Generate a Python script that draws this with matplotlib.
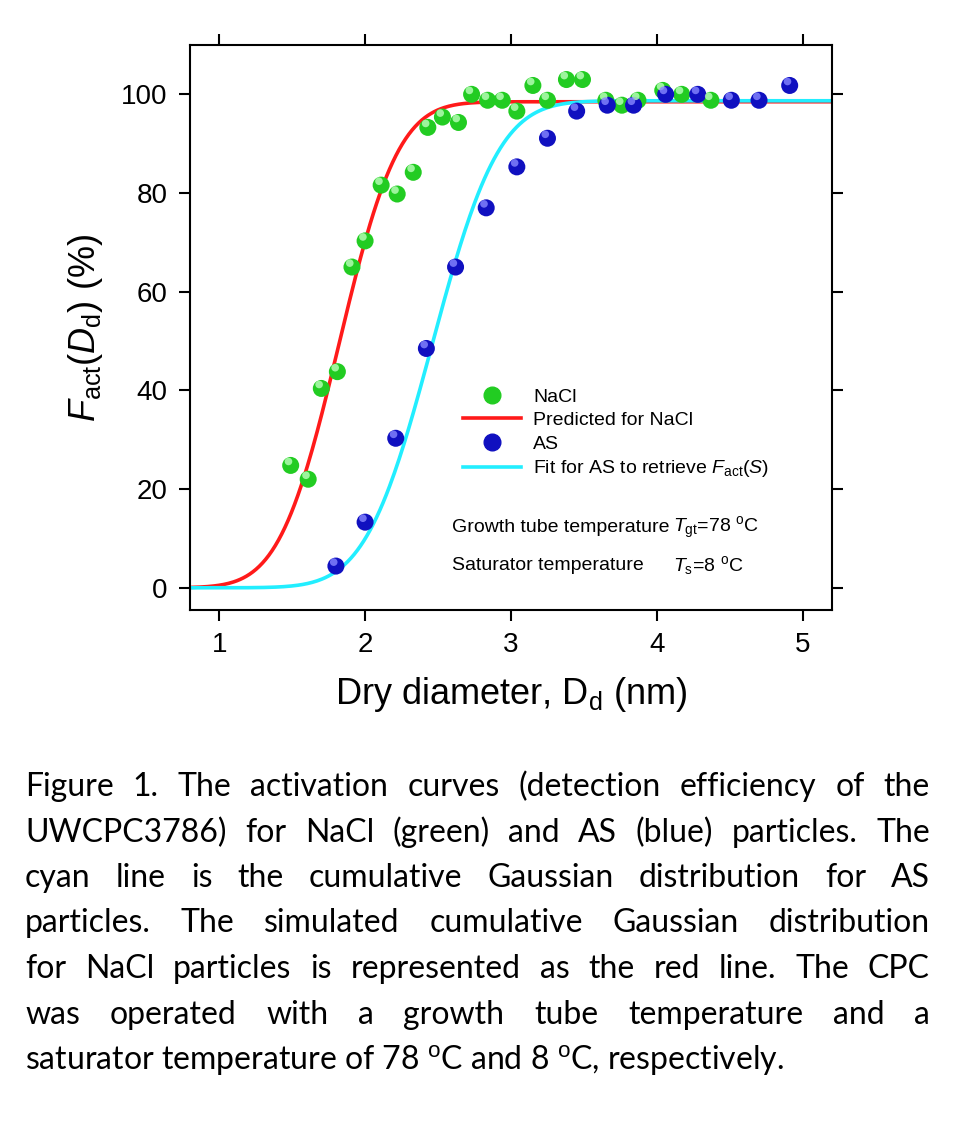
import math
import numpy as np
import matplotlib as mpl
mpl.use('Agg')
import matplotlib.pyplot as plt
from matplotlib.lines import Line2D

plt.rcParams['font.family'] = ['Liberation Sans', 'DejaVu Sans']
plt.rcParams['mathtext.fontset'] = 'custom'
plt.rcParams['mathtext.rm'] = 'Liberation Sans'
plt.rcParams['mathtext.it'] = 'Liberation Sans:italic'

# data
nacl_d = [1.49, 1.61, 1.70, 1.81, 1.91, 2.00, 2.11, 2.22, 2.33, 2.43, 2.53, 2.64, 2.73,
          2.84, 2.94, 3.04, 3.15, 3.25, 3.38, 3.49, 3.65, 3.76, 3.87, 4.04, 4.17, 4.37]
nacl_f = [24.8, 22.0, 40.4, 43.8, 65.0, 70.3, 81.6, 79.8, 84.2, 93.3, 95.4, 94.3, 100.0,
          98.8, 98.8, 96.6, 101.8, 98.8, 103.0, 103.0, 98.8, 97.8, 98.8, 100.8, 100.0, 98.8]
as_d = [1.80, 2.00, 2.21, 2.42, 2.62, 2.83, 3.04, 3.25, 3.45, 3.66, 3.84, 4.06, 4.28,
        4.51, 4.70, 4.91]
as_f = [4.4, 13.3, 30.3, 48.5, 65.0, 77.0, 85.3, 91.1, 96.6, 97.8, 97.8, 100.0, 100.0,
        98.8, 98.8, 101.8]
# cumulative Gaussian parameters (max, mean, sigma)
nacl_fit = (98.5, 1.82, 0.32)
as_fit = (98.7, 2.46, 0.36)

def cumgauss(x, p):
    a, mu, s = p
    return np.array([a * 0.5 * (1 + math.erf((v - mu) / (s * math.sqrt(2)))) for v in x])

fig = plt.figure(figsize=(9.54, 11.31), dpi=100)
ax = fig.add_axes([190/954, 1 - 610/1131, 642/954, 565/1131])

xs = np.linspace(0.8, 5.2, 400)
ax.plot(xs, cumgauss(xs, nacl_fit), color='#ff1a1a', lw=2.6, zorder=2)
ax.plot(xs, cumgauss(xs, as_fit), color='#22eeff', lw=2.6, zorder=2)

def balls(x, y, c, hi):
    ax.scatter(x, y, s=150, color=c, zorder=3, edgecolors='none')
    ax.scatter(np.array(x) - 0.015, np.array(y) + 0.8, s=30, color=hi, zorder=4,
               edgecolors='none', alpha=0.8)

balls(nacl_d, nacl_f, '#22cc22', '#bbffbb')
balls(as_d, as_f, '#1010c0', '#8888ff')

# legend
h1 = Line2D([], [], ls='none', marker='o', ms=12, color='#22cc22')
h2 = Line2D([], [], color='#ff1a1a', lw=2.6)
h3 = Line2D([], [], ls='none', marker='o', ms=12, color='#1010c0')
h4 = Line2D([], [], color='#22eeff', lw=2.6)
ax.legend([h1, h2, h3, h4],
          ['NaCl', 'Predicted for NaCl', 'AS',
           r'Fit for AS to retrieve $\mathit{F}_{\mathrm{act}}(\mathit{S})$'],
          loc='upper left', bbox_to_anchor=(0.41, 0.41), frameon=False, fontsize=14,
          handlelength=3.0, labelspacing=0.3, borderpad=0, handletextpad=0.6)
ax.text(0.408, 0.146, 'Growth tube temperature', transform=ax.transAxes, fontsize=14, va='center')
ax.text(0.752, 0.146, r'$\mathit{T}_{\mathrm{gt}}$=78 $^{\mathrm{o}}$C', transform=ax.transAxes,
        fontsize=14, va='center')
ax.text(0.408, 0.079, 'Saturator temperature', transform=ax.transAxes, fontsize=14, va='center')
ax.text(0.752, 0.079, r'$\mathit{T}_{\mathrm{s}}$=8 $^{\mathrm{o}}$C', transform=ax.transAxes,
        fontsize=14, va='center')

ax.set_xlim(0.8, 5.2)
ax.set_ylim(-4.5, 110)
ax.set_xticks([1, 2, 3, 4, 5])
ax.set_yticks([0, 20, 40, 60, 80, 100])
ax.tick_params(direction='out', length=8, width=1.5, labelsize=20, pad=8,
               top=True, right=True)
for sp in ax.spines.values():
    sp.set_linewidth(1.5)
ax.set_xlabel(r'Dry diameter, D$_{\mathrm{d}}$ (nm)', fontsize=26, labelpad=12)
ax.set_ylabel(r'$\mathit{F}_{\mathrm{act}}(\mathit{D}_{\mathrm{d}})$ (%)', fontsize=26, labelpad=12)

# caption, justified
caption = ["Figure 1. The activation curves (detection efficiency of the",
           "UWCPC3786) for NaCl (green) and AS (blue) particles. The",
           "cyan line is the cumulative Gaussian distribution for AS",
           "particles. The simulated cumulative Gaussian distribution",
           "for NaCl particles is represented as the red line. The CPC",
           "was operated with a growth tube temperature and a",
           r"saturator temperature of 78 $^{\mathrm{o}}$C and 8 $^{\mathrm{o}}$C, respectively."]
cap_font = ['Lato', 'DejaVu Sans']
x0, x1 = 25, 930
r = fig.canvas.get_renderer()
for i, line in enumerate(caption):
    y = 1 - (787 + i * 45.5) / 1131
    words = line.split(' ')
    if i == len(caption) - 1:
        fig.text(x0 / 954, y, line, fontsize=23, family=cap_font, va='center')
        continue
    ts = [fig.text(0, y, w, fontsize=23, family=cap_font, va='center') for w in words]
    ws = [t.get_window_extent(r).width for t in ts]
    gap = (x1 - x0 - sum(ws)) / (len(words) - 1)
    pos = x0
    for t, w in zip(ts, ws):
        t.set_x(pos / 954)
        pos += w + gap

fig.savefig('out.png', dpi=100)
